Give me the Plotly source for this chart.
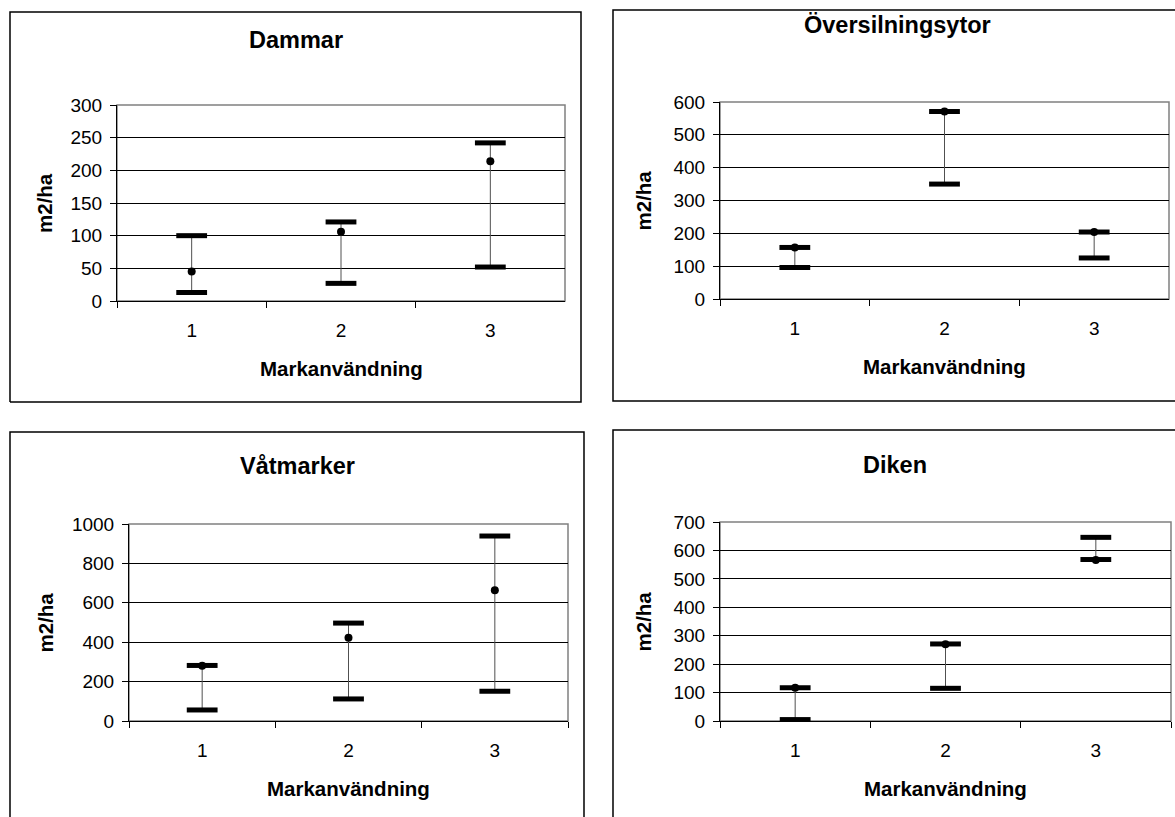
import plotly.graph_objects as go

W, H = 1175, 817

categories = ["1", "2", "3"]

titles = ["Dammar", "Översilningsytor", "Våtmarker", "Diken"]

dammar_min = [13, 27, 52]
dammar_mean = [45, 106, 214]
dammar_max = [100, 121, 242]

oversilning_min = [96, 350, 125]
oversilning_mean = [157, 571, 204]
oversilning_max = [157, 571, 204]

vatmarker_min = [56, 112, 151]
vatmarker_mean = [280, 422, 664]
vatmarker_max = [282, 497, 939]

diken_min = [5, 115, 568]
diken_mean = [117, 270, 566]
diken_max = [117, 271, 646]

y_max = [300, 600, 1000, 700]
y_step = [50, 100, 200, 100]

series = [
    (dammar_min, dammar_mean, dammar_max),
    (oversilning_min, oversilning_mean, oversilning_max),
    (vatmarker_min, vatmarker_mean, vatmarker_max),
    (diken_min, diken_mean, diken_max),
]

# plot areas in pixels: (left, top, right, bottom)
plots = [(117, 105, 565, 301), (720, 102, 1169, 299), (129, 524, 568, 721), (720, 522, 1171, 721)]
# chart frames as open polylines (pixels); the lower and right panels run off the page
frame_paths = [
    [(10, 402), (10, 12), (581, 12), (581, 402), (10, 402)],
    [(1175, 401), (613, 401), (613, 10), (1175, 10)],
    [(10, 817), (10, 432), (584, 432), (584, 817)],
    [(613, 817), (613, 430), (1175, 430)],
]
ytitle_x = [45, 643, 45, 643]
frame_centre_x = [295.5, 897, 297, 895]
title_y = [40, 25, 466, 465]

FONT = "Liberation Sans, Arial, sans-serif"


def px(x):
    return x / W


def py(y):
    return 1 - y / H


def path_of(points):
    return "M " + " L ".join(f"{px(x):.5f},{py(y):.5f}" for x, y in points)


fig = go.Figure()
shapes = []
annotations = []

for i, (lo, mid, hi) in enumerate(series):
    n = i + 1
    xa = f"x{n}" if n > 1 else "x"
    ya = f"y{n}" if n > 1 else "y"
    L, T, R, B = plots[i]

    # high-low line
    lx, ly = [], []
    for c, a, b in zip(categories, lo, hi):
        lx += [c, c, None]
        ly += [a, b, None]
    fig.add_trace(go.Scatter(x=lx, y=ly, mode="lines", xaxis=xa, yaxis=ya,
                             line=dict(color="#505050", width=1), showlegend=False,
                             hoverinfo="skip"))
    # mean dot
    fig.add_trace(go.Scatter(x=categories, y=mid, mode="markers", xaxis=xa, yaxis=ya,
                             marker=dict(symbol="circle", size=8, color="black"),
                             showlegend=False))
    # min / max bars
    for vals in (lo, hi):
        fig.add_trace(go.Scatter(x=categories, y=vals, mode="markers", xaxis=xa, yaxis=ya,
                                 marker=dict(symbol="line-ew", size=22,
                                             line=dict(color="black", width=5)),
                                 showlegend=False))

    axis_common = dict(showline=True, linecolor="black", linewidth=1, mirror=False,
                       ticks="outside", tickcolor="black", ticklen=6, tickwidth=1,
                       tickfont=dict(family=FONT, size=19, color="black"),
                       zeroline=False, fixedrange=True, automargin=False)
    fig.update_layout(**{
        ("xaxis" if n == 1 else f"xaxis{n}"): dict(
            domain=[px(L), px(R)], anchor=ya, type="category",
            categoryorder="array", categoryarray=categories, range=[-0.5, 2.5],
            tickson="boundaries", showgrid=False, ticklabelstandoff=12, **axis_common),
        ("yaxis" if n == 1 else f"yaxis{n}"): dict(
            domain=[py(B), py(T)], anchor=xa, range=[0, y_max[i]],
            tick0=0, dtick=y_step[i], showgrid=True, gridcolor="black", gridwidth=1,
            ticklabelstandoff=4, **axis_common),
    })

    # plot area outline (grey, behind)
    shapes.append(dict(type="rect", xref="paper", yref="paper", layer="below",
                       x0=px(L), x1=px(R), y0=py(B), y1=py(T),
                       line=dict(color="#808080", width=1.5)))
    # chart frame
    shapes.append(dict(type="path", xref="paper", yref="paper",
                       path=path_of(frame_paths[i]),
                       line=dict(color="black", width=1.5)))

    annotations.append(dict(text=f"<b>{titles[i]}</b>", xref="paper", yref="paper",
                            x=px(frame_centre_x[i]), y=py(title_y[i]), showarrow=False,
                            xanchor="center", yanchor="middle",
                            font=dict(family=FONT, size=23.5, color="black")))
    annotations.append(dict(text="<b>Markanvändning</b>", xref="paper", yref="paper",
                            x=px((L + R) / 2), y=py(B + 67), showarrow=False,
                            xanchor="center", yanchor="middle",
                            font=dict(family=FONT, size=20.5, color="black")))
    annotations.append(dict(text="<b>m2/ha</b>", xref="paper", yref="paper",
                            x=px(ytitle_x[i]), y=py((T + B) / 2), showarrow=False,
                            textangle=-90, xanchor="center", yanchor="middle",
                            font=dict(family=FONT, size=20.5, color="black")))

fig.update_layout(width=W, height=H, margin=dict(l=0, r=0, t=0, b=0, autoexpand=False),
                  paper_bgcolor="white", plot_bgcolor="white",
                  shapes=shapes, annotations=annotations, showlegend=False)

fig.write_html("out.html", config={"displayModeBar": False})
